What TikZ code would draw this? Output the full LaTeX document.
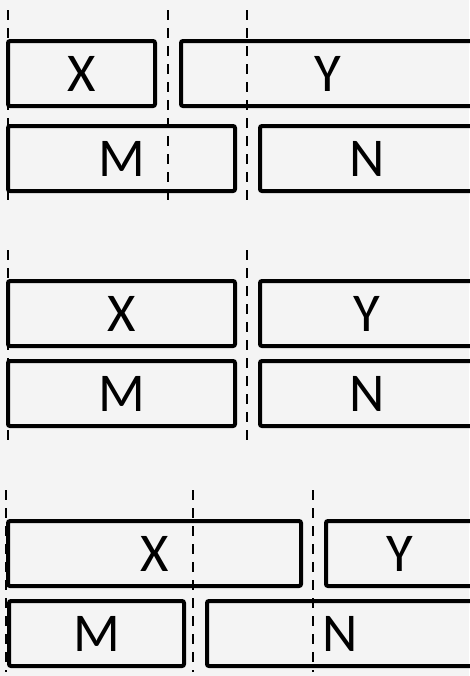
\documentclass[tikz,border=0pt]{standalone}
\usepackage{fontspec}
\setmainfont{Carlito}
\definecolor{bgpanel}{RGB}{244,244,244}
\tikzset{every picture/.style={line width=0.75pt}}
\tikzset{
  blk/.style={draw, line width=3pt, rounded corners=1.5pt, minimum height=48.75pt,
    inner sep=0pt, font=\fontsize{41}{48}\selectfont},
  cut/.style={line width=1.8pt, dash pattern={on 7.5pt off 6pt}}
}

\begin{document}
\begin{tikzpicture}[x=0.75pt,y=0.75pt,yscale=-1,xscale=1]
%set diagram size 469 x 676
\useasboundingbox (0,0) rectangle (469,676);
\fill [bgpanel] (0,0) rectangle (469,676);

%Straight Lines (top)
\coordinate (a1) at (8,10);   \coordinate (a2) at (8,201);
\coordinate (b1) at (168,10); \coordinate (b2) at (168,201);
\coordinate (c1) at (247,10); \coordinate (c2) at (247,201);
\draw [cut] (a1) -- (a2);
\draw [cut] (b1) -- (b2);
\draw [cut] (c1) -- (c2);
%Straight Lines (middle)
\coordinate (d1) at (8,250);   \coordinate (d2) at (8,441);
\coordinate (e1) at (247,250); \coordinate (e2) at (247,441);
\draw [cut] (d1) -- (d2);
\draw [cut] (e1) -- (e2);
%Straight Lines (bottom)
\coordinate (f1) at (6,490);   \coordinate (f2) at (6,672);
\coordinate (g1) at (193,490); \coordinate (g2) at (193,672);
\coordinate (h1) at (313,490); \coordinate (h2) at (313,672);
\draw [cut] (f1) -- (f2);
\draw [cut] (g1) -- (g2);
\draw [cut] (h1) -- (h2);

% Text Node (top)
\node [blk, minimum width=110.25pt] (x1) at (81.5,73.5) {X};
\node [blk, minimum width=219.75pt] (y1) at (327.5,73.5) {Y};
\node [blk, minimum width=170.25pt] (m1) at (121.5,158.5) {M};
\node [blk, minimum width=160.5pt] (n1) at (367,158.5) {N};
% Text Node (middle)
\node [blk, minimum width=170.25pt] (x2) at (121.5,313.5) {X};
\node [blk, minimum width=160.5pt] (y2) at (367,313.5) {Y};
\node [blk, minimum width=170.25pt] (m2) at (121.5,393.5) {M};
\node [blk, minimum width=160.5pt] (n2) at (367,393.5) {N};
% Text Node (bottom)
\node [blk, minimum width=219.75pt] (x3) at (154.5,553.5) {X};
\node [blk, minimum width=111pt] (y3) at (400,553.5) {Y};
\node [blk, minimum width=131.25pt] (m3) at (96.5,633.5) {M};
\node [blk, minimum width=200.25pt] (n3) at (340.5,633.5) {N};

\end{tikzpicture}
\end{document}
